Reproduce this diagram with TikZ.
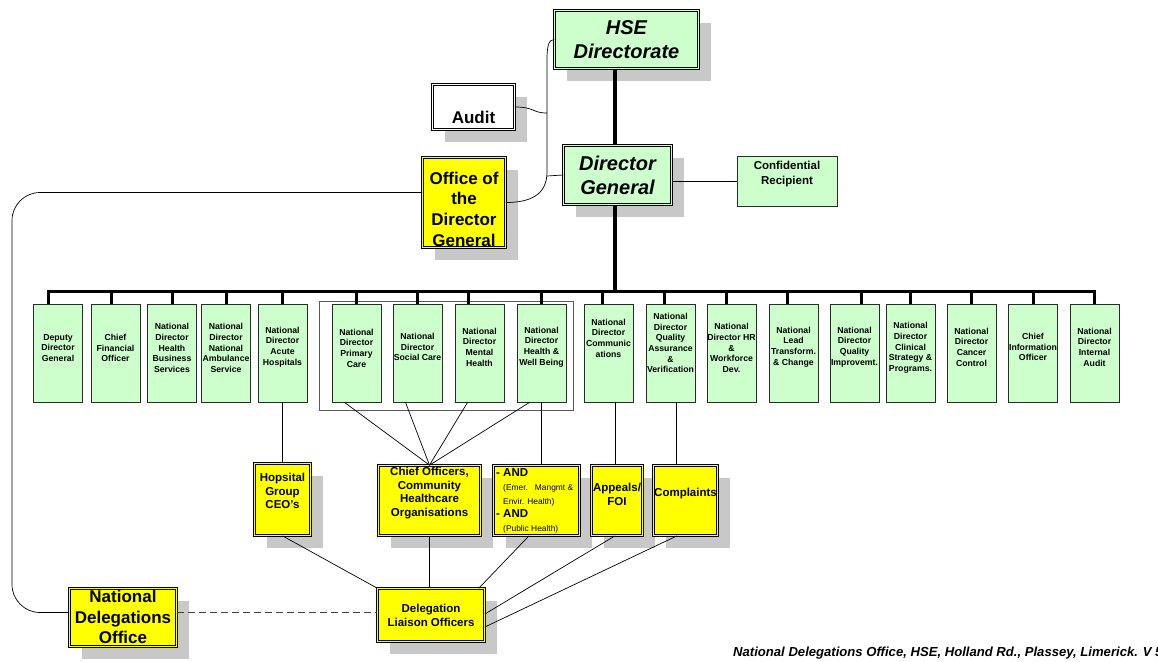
\documentclass[tikz,border=0pt]{standalone}
\usepackage{fontspec}
\setmainfont{Liberation Sans}
\usetikzlibrary{shadows}
\definecolor{lgreen}{HTML}{CCFFCC}
\definecolor{ylw}{HTML}{FFFF00}
\definecolor{shd}{HTML}{C8C8C8}
\definecolor{edge}{HTML}{2A2A2A}
\begin{document}
\begin{tikzpicture}[x=1pt,y=-1pt,
  shad/.style={drop shadow={shadow xshift=12.5pt, shadow yshift=-12.5pt, fill=shd, opacity=1}},
  dbl/.style={shad, draw=black, double=#1, double distance=1.6pt, line width=0.7pt, fill=#1, inner sep=0pt},
  gbox/.style={draw=edge, line width=0.8pt, fill=lgreen, inner sep=0pt, minimum width=49pt, minimum height=98pt},
  gtxt/.style={font=\bfseries\fontsize{8.7}{10.7}\selectfont, align=center, inner sep=0pt},
  bigtxt/.style={font=\bfseries\itshape\fontsize{20}{24}\selectfont, align=center, inner sep=0pt},
  midtxt/.style={font=\bfseries\fontsize{17}{20.7}\selectfont, align=center, inner sep=0pt},
  ytxt/.style={font=\bfseries\fontsize{11.5}{13.8}\selectfont, align=center, inner sep=0pt},
  smalltxt/.style={font=\fontsize{8.4}{10}\selectfont, inner sep=0pt, anchor=west},
  conn/.style={draw=black, line width=0.7pt},
  busline/.style={draw=black, line width=3pt},
  trunkline/.style={draw=black, line width=3.8pt},
]
\useasboundingbox (0,0) rectangle (1158,661);
\fill[white] (0,0) rectangle (1158,661);

% container around four boxes
\draw[draw=black!65, line width=0.8pt] (319,301) rectangle (573,410);

% top boxes
\node[dbl=lgreen, minimum width=144pt, minimum height=58pt] (hse) at (626.5,39.5) {};
\node[bigtxt] at (626.5,39.5) {HSE\\Directorate};
\node[dbl=lgreen, minimum width=108pt, minimum height=59pt] (dg) at (617.5,175) {};
\node[bigtxt] at (617.5,175) {Director\\General};
\node[dbl=white, minimum width=82pt, minimum height=45pt] (audit) at (473.5,107) {};
\node[midtxt] at (473.5,117) {Audit};
\node[dbl=ylw, minimum width=83pt, minimum height=90pt] (odg) at (464,202.5) {};
\node[midtxt] at (464,209) {Office of\\the\\Director\\General};
\node[draw=edge, line width=0.8pt, fill=lgreen, minimum width=100pt, minimum height=50pt, inner sep=0pt] (cr) at (787,181) {};
\node[font=\bfseries\fontsize{11.5}{15}\selectfont, align=center, inner sep=0pt] at (787,174.5) {Confidential\\Recipient};

% row of green boxes
\foreach \n/\x/\ty/\t in {
  dd/58/348/{Deputy\\Director\\General},
  cfo/115.5/348/{Chief\\Financial\\Officer},
  hbs/172/348/{National\\Director\\Health\\Business\\Services},
  amb/226/348/{National\\Director\\National\\Ambulance\\Service},
  ach/282.5/347/{National\\Director\\Acute\\Hospitals},
  pc/356.5/348/{National\\Director\\Primary\\Care},
  sc/417.5/347/{National\\Director\\Social Care},
  mh/479.5/347/{National\\Director\\Mental\\Health},
  hw/541.5/347/{National\\Director\\Health \&\\Well Being},
  com/608.5/338/{National\\Director\\Communic\\ations},
  qa/670.5/343/{National\\Director\\Quality\\Assurance\\\&\\Verification},
  hr/731.5/348/{National\\Director HR\\\&\\Workforce\\Dev.},
  lt/793.5/347/{National\\Lead\\Transform.\\\& Change},
  qi/854.5/347/{National\\Director\\Quality\\Improvemt.},
  cs/910.5/348/{National\\Director\\Clinical\\Strategy \&\\Programs.},
  cc/971.5/347/{National\\Director\\Cancer\\Control},
  cio/1033/347/{Chief\\Information\\Officer},
  ia/1094.5/347/{National\\Director\\Internal\\Audit}}{
  \node[gbox] (\n) at (\x,353) {};
  \node[gtxt] at (\x,\ty) {\t};
}

% lower yellow boxes
\node[dbl=ylw, minimum width=56pt, minimum height=72pt] (hg) at (282.5,499.5) {};
\node[ytxt] at (282.5,491) {Hopsital\\Group\\CEO's};
\node[dbl=ylw, minimum width=102pt, minimum height=70pt] (co) at (429.5,500.5) {};
\node[ytxt] at (429.5,493) {Chief Officers,\\Community\\Healthcare\\Organisations};
\node[dbl=ylw, minimum width=86pt, minimum height=70pt] (and) at (536.5,500.5) {};
\node[ytxt, anchor=west] at (496,473) {- AND};
\node[smalltxt] at (503,488) {(Emer.\hspace{7pt}Mangmt \&};
\node[smalltxt] at (503,502) {Envir. Health)};
\node[ytxt, anchor=west] at (496,514) {- AND};
\node[smalltxt] at (503,529) {(Public Health)};
\node[dbl=ylw, minimum width=51pt, minimum height=70pt] (ap) at (617,500.5) {};
\node[ytxt] at (617,494.5) {Appeals/\\FOI};
\node[dbl=ylw, minimum width=64pt, minimum height=70pt] (cp) at (685.5,500.5) {};
\node[ytxt] at (685.5,494) {Complaints};

\node[dbl=ylw, minimum width=107pt, minimum height=53pt] (dlo) at (431,615) {};
\node[ytxt] at (431,615) {Delegation\\Liaison Officers};
\node[dbl=ylw, minimum width=107pt, minimum height=58pt] (ndo) at (123,617.5) {};
\node[midtxt] at (123,617) {National\\Delegations\\Office};

% footer
\node[anchor=base west, inner sep=0pt, font=\bfseries\itshape\fontsize{13.1}{15}\selectfont] (foot) at (733,656) {National Delegations Office, HSE, Holland Rd., Plassey, Limerick. V 5};

% trunk and bus
\coordinate (trunk) at (615,291);
\coordinate (busL) at (48,291);
\coordinate (busR) at (1094.5,291);
\draw[trunkline] (hse.south -| trunk) -- (dg.north -| trunk);
\draw[trunkline] (dg.south -| trunk) -- (trunk);
\draw[busline, line join=miter] (dd.north -| busL) -- (busL) -- (busR) -- (ia.north);
\foreach \n/\s in {cfo/-4,hbs/0,amb/0,ach/0,pc/0,sc/0,mh/-11,hw/0,com/-6,qa/-6,hr/-5,lt/-6,qi/7,cs/0,cc/0,cio/0}{
  \draw[busline] ([xshift=\s pt]\n.north) -- +(0,-13);
}

% upper connectors
\draw[conn] (hse.west) .. controls (549,39.5) and (547,45) .. (547,60) -- (547,172) .. controls (547,195) and (530,202.5) .. (odg.east);
\draw[conn] (audit.east) .. controls (535,107) and (532,113) .. (547,113);
\draw[conn] (dg.west) -- (547,176);
\draw[conn] (cr.west -| dg.east) -- (cr.west);
\draw[conn, rounded corners=28pt] ([yshift=10pt]odg.west) -| (12,400) |- ([yshift=5pt]ndo.west);
\draw[conn, draw=black!75, dash pattern=on 7pt off 4pt] ([yshift=5pt]ndo.east) -- ([yshift=5pt]ndo.east -| dlo.west);

% lower connectors
\draw[conn] (ach.south) -- (hg.north);
\foreach \n in {pc,sc,mh,hw}{
  \draw[conn] ([xshift=-12pt]\n.south) -- (co.north);
}
\draw[conn] (hw.south) -- (hw.south |- and.north);
\coordinate (comb) at ([xshift=6.5pt]com.south);
\draw[conn] (comb) -- (comb |- ap.north);
\coordinate (qab) at ([xshift=5.5pt]qa.south);
\draw[conn] (qab) -- (qab |- cp.north);
\draw[conn] (hg.south) -- (dlo.north west);
\draw[conn] (co.south) -- (co.south |- dlo.north);
\draw[conn] ([xshift=-7.5pt]and.south) -- ([xshift=-6pt]dlo.north east);
\draw[conn] ([xshift=-2pt]ap.south) -- ([yshift=1pt]dlo.east);
\draw[conn] ([xshift=-8.5pt]cp.south) -- ([yshift=-12pt]dlo.east);
\end{tikzpicture}
\end{document}
